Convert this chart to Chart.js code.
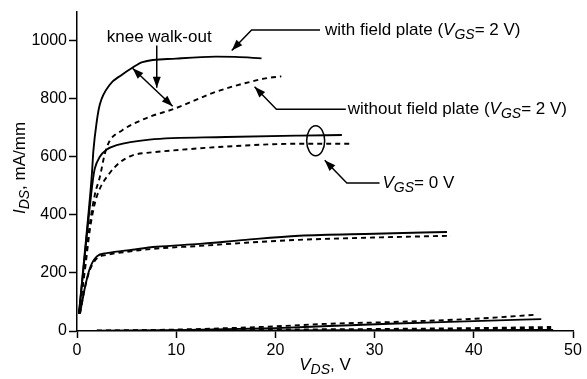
<!DOCTYPE html>
<html>
<head>
<meta charset="utf-8">
<script src="https://cdn.jsdelivr.net/npm/chart.js@4/dist/chart.umd.min.js"></script>
<style>
  html, body { margin: 0; padding: 0; background: #fff; }
  #wrap { width: 587px; height: 379px; }
</style>
</head>
<body>
<div id="wrap"><canvas id="c" width="587" height="379"></canvas></div>
<script>
// ---- Data (V_DS in V, I_DS in mA/mm) ----
const xTicks = [0, 10, 20, 30, 40, 50];
const yTicks = [0, 200, 400, 600, 800, 1000];

// with field plate, V_GS = 2 V (solid)
const fpVgs2V = [0.2, 0.7, 1.2, 1.5, 1.65, 2.0, 2.3, 3.3, 4.5, 5.5, 6.6, 10, 14, 16, 18.6];
const fpVgs2I = [60, 240, 420, 540, 620, 724, 780, 848, 882, 905, 926, 938, 945, 944, 939];
// without field plate, V_GS = 2 V (dashed)
const nfpVgs2V = [0.2, 0.8, 1.3, 1.8, 2.3, 2.8, 3.3, 4.5, 5.6, 7.5, 9.7, 11.7, 13.7, 15.7, 17.7, 19, 20.6];
const nfpVgs2I = [60, 220, 370, 470, 530, 610, 655, 690, 712, 740, 764, 792, 820, 842, 860, 870, 877];
// with field plate, V_GS = 0 V (solid)
const fpVgs0V = [0.2, 0.7, 1.2, 1.6, 1.8, 2.3, 3.0, 4.0, 7.3, 15, 22.4, 26.7];
const fpVgs0I = [60, 230, 400, 520, 560, 600, 625, 640, 659, 668, 673, 675];
// without field plate, V_GS = 0 V (dashed)
const nfpVgs0V = [0.2, 0.8, 1.3, 1.8, 2.3, 3.3, 4.3, 5.6, 7.5, 9.7, 15, 22.4, 27.7];
const nfpVgs0I = [60, 210, 350, 440, 490, 544, 580, 605, 615, 622, 635, 645, 645];
// with field plate, lower V_GS (solid)
const fpLowV = [0.3, 0.8, 1.3, 2.0, 3.0, 5.6, 8, 12.4, 17, 22.4, 30, 37.3];
const fpLowI = [60, 150, 216, 257, 268, 280, 290, 300, 314, 328, 335, 341];
// without field plate, lower V_GS (dashed)
const nfpLowV = [0.3, 0.8, 1.3, 2.0, 3.0, 5.6, 8, 12.4, 17, 22.4, 30, 37.7];
const nfpLowI = [60, 150, 210, 250, 262, 275, 284, 293, 304, 314, 322, 328];
// near pinch-off curves
const nfpPinchAV = [2, 10, 15.4, 20, 25.4, 31.8, 40, 46.3];
const nfpPinchAI = [0, 5, 10, 16, 25, 31, 42, 56];
const fpPinchBV = [2, 10, 20, 25.4, 31.5, 40, 46.8];
const fpPinchBI = [0, 3, 10, 17, 25, 34, 41];
const nfpPinchCV = [2, 10, 20, 30, 40, 47.8];
const nfpPinchCI = [0, 1, 3, 5, 8, 12];
const fpPinchDV = [2, 20, 40, 48];
const fpPinchDI = [0, 1, 2, 3];

const FONT = '"Liberation Sans", Arial, Helvetica, sans-serif';

function pts(xs, ys) { return xs.map((x, i) => ({ x: x, y: ys[i] })); }
function ds(xs, ys, dashed, w) {
  return {
    data: pts(xs, ys),
    borderColor: '#000',
    borderWidth: w || 1.9,
    borderDash: dashed ? [5, 4] : [],
    pointRadius: 0,
    fill: false,
    cubicInterpolationMode: 'monotone'
  };
}

function richWidth(ctx, segs, size) {
  let w = 0;
  segs.forEach(s => {
    const fs = s.sub ? Math.round(size * 0.8) : size;
    ctx.font = (s.it ? 'italic ' : '') + fs + 'px ' + FONT;
    w += ctx.measureText(s.t).width;
  });
  return w;
}
function drawRich(ctx, x, y, segs, size, align) {
  let w = richWidth(ctx, segs, size);
  let cx = align === 'center' ? x - w / 2 : x;
  ctx.fillStyle = '#000';
  ctx.textBaseline = 'alphabetic';
  ctx.textAlign = 'left';
  segs.forEach(s => {
    const fs = s.sub ? Math.round(size * 0.8) : size;
    ctx.font = (s.it ? 'italic ' : '') + fs + 'px ' + FONT;
    ctx.fillText(s.t, cx, y + (s.sub ? 4 : 0));
    cx += ctx.measureText(s.t).width;
  });
}
function arrowHead(ctx, x1, y1, x2, y2) {
  const a = Math.atan2(y2 - y1, x2 - x1);
  const L = 11, H = 4;
  ctx.beginPath();
  ctx.moveTo(x2, y2);
  ctx.lineTo(x2 - L * Math.cos(a) + H * Math.sin(a), y2 - L * Math.sin(a) - H * Math.cos(a));
  ctx.lineTo(x2 - L * Math.cos(a) - H * Math.sin(a), y2 - L * Math.sin(a) + H * Math.cos(a));
  ctx.closePath();
  ctx.fill();
}
function polyline(ctx, p) {
  ctx.beginPath();
  ctx.moveTo(p[0][0], p[0][1]);
  for (let i = 1; i < p.length; i++) ctx.lineTo(p[i][0], p[i][1]);
  ctx.stroke();
}

const annot = {
  id: 'annot',
  afterDraw(chart) {
    const ctx = chart.ctx;
    const X = v => chart.scales.x.getPixelForValue(v);
    const Y = v => chart.scales.y.getPixelForValue(v);
    ctx.save();
    ctx.strokeStyle = '#000';
    ctx.fillStyle = '#000';
    ctx.lineWidth = 1.5;
    ctx.setLineDash([]);

    let p = [[X(24.5), Y(1037)], [X(17.6), Y(1037)], [X(15.6), Y(966)]];
    polyline(ctx, p);
    arrowHead(ctx, p[1][0], p[1][1], p[2][0], p[2][1]);
    drawRich(ctx, X(25.0), Y(1020), [
      { t: 'with field plate (' }, { t: 'V', it: true }, { t: 'GS', it: true, sub: true }, { t: '= 2 V)' }
    ], 17);

    p = [[X(27.1), Y(764)], [X(20.1), Y(764)], [X(17.9), Y(841)]];
    polyline(ctx, p);
    arrowHead(ctx, p[1][0], p[1][1], p[2][0], p[2][1]);
    drawRich(ctx, X(27.3), Y(747), [
      { t: 'without field plate (' }, { t: 'V', it: true }, { t: 'GS', it: true, sub: true }, { t: '= 2 V)' }
    ], 17);

    ctx.beginPath();
    ctx.ellipse(X(24.06), Y(655), 9, 15, 0, 0, Math.PI * 2);
    ctx.stroke();
    p = [[X(30.5), Y(510)], [X(27.2), Y(510)], [X(24.97), Y(588)]];
    polyline(ctx, p);
    arrowHead(ctx, p[1][0], p[1][1], p[2][0], p[2][1]);
    drawRich(ctx, X(30.8), Y(493), [
      { t: 'V', it: true }, { t: 'GS', it: true, sub: true }, { t: '= 0 V' }
    ], 17);

    drawRich(ctx, X(3.0), Y(997), [{ t: 'knee walk-out' }], 17);
    p = [[X(8.04), Y(983)], [X(8.04), Y(838)]];
    polyline(ctx, p);
    arrowHead(ctx, p[0][0], p[0][1], p[1][0], p[1][1]);
    p = [[X(5.6), Y(905)], [X(9.64), Y(774)]];
    polyline(ctx, p);
    arrowHead(ctx, p[1][0], p[1][1], p[0][0], p[0][1]);
    arrowHead(ctx, p[0][0], p[0][1], p[1][0], p[1][1]);

    const ca = chart.chartArea;
    drawRich(ctx, (ca.left + ca.right) / 2, 370, [
      { t: 'V', it: true }, { t: 'DS', it: true, sub: true }, { t: ', V' }
    ], 17, 'center');
    ctx.save();
    ctx.translate(25, 168);
    ctx.rotate(-Math.PI / 2);
    drawRich(ctx, 0, 0, [
      { t: 'I', it: true }, { t: 'DS', it: true, sub: true }, { t: ', mA/mm' }
    ], 17, 'center');
    ctx.restore();
    ctx.restore();
  }
};

new Chart(document.getElementById('c'), {
  type: 'line',
  data: {
    datasets: [
      ds(fpVgs2V, fpVgs2I, false),
      ds(nfpVgs2V, nfpVgs2I, true),
      ds(fpVgs0V, fpVgs0I, false),
      ds(nfpVgs0V, nfpVgs0I, true),
      ds(fpLowV, fpLowI, false),
      ds(nfpLowV, nfpLowI, true),
      ds(nfpPinchAV, nfpPinchAI, true),
      ds(fpPinchBV, fpPinchBI, false),
      ds(nfpPinchCV, nfpPinchCI, true, 3),
      ds(fpPinchDV, fpPinchDI, false, 2.5)
    ]
  },
  options: {
    responsive: false,
    animation: false,
    devicePixelRatio: 1,
    layout: { padding: { top: 5, right: 14, left: 0, bottom: 0 } },
    plugins: { legend: { display: false }, tooltip: { enabled: false } },
    scales: {
      x: {
        type: 'linear', min: 0, max: 50,
        afterFit(s) { s.height = 48; },
        afterBuildTicks(s) { s.ticks = xTicks.map(v => ({ value: v })); },
        ticks: { color: '#000', padding: 3, font: { size: 16, family: FONT }, callback: v => String(v) },
        grid: { drawOnChartArea: false, drawTicks: true, tickLength: 7, tickColor: '#000', tickWidth: 1.5 },
        border: { color: '#000', width: 1.5 }
      },
      y: {
        type: 'linear', min: 0, max: 1100,
        afterFit(s) { s.width = 77; },
        afterBuildTicks(s) { s.ticks = yTicks.map(v => ({ value: v })); },
        ticks: { color: '#000', padding: 2, font: { size: 16, family: FONT }, callback: v => String(v) },
        grid: { drawOnChartArea: false, drawTicks: true, tickLength: 8, tickColor: '#000', tickWidth: 1.5 },
        border: { color: '#000', width: 1.5 }
      }
    }
  },
  plugins: [annot]
});
</script>
</body>
</html>
